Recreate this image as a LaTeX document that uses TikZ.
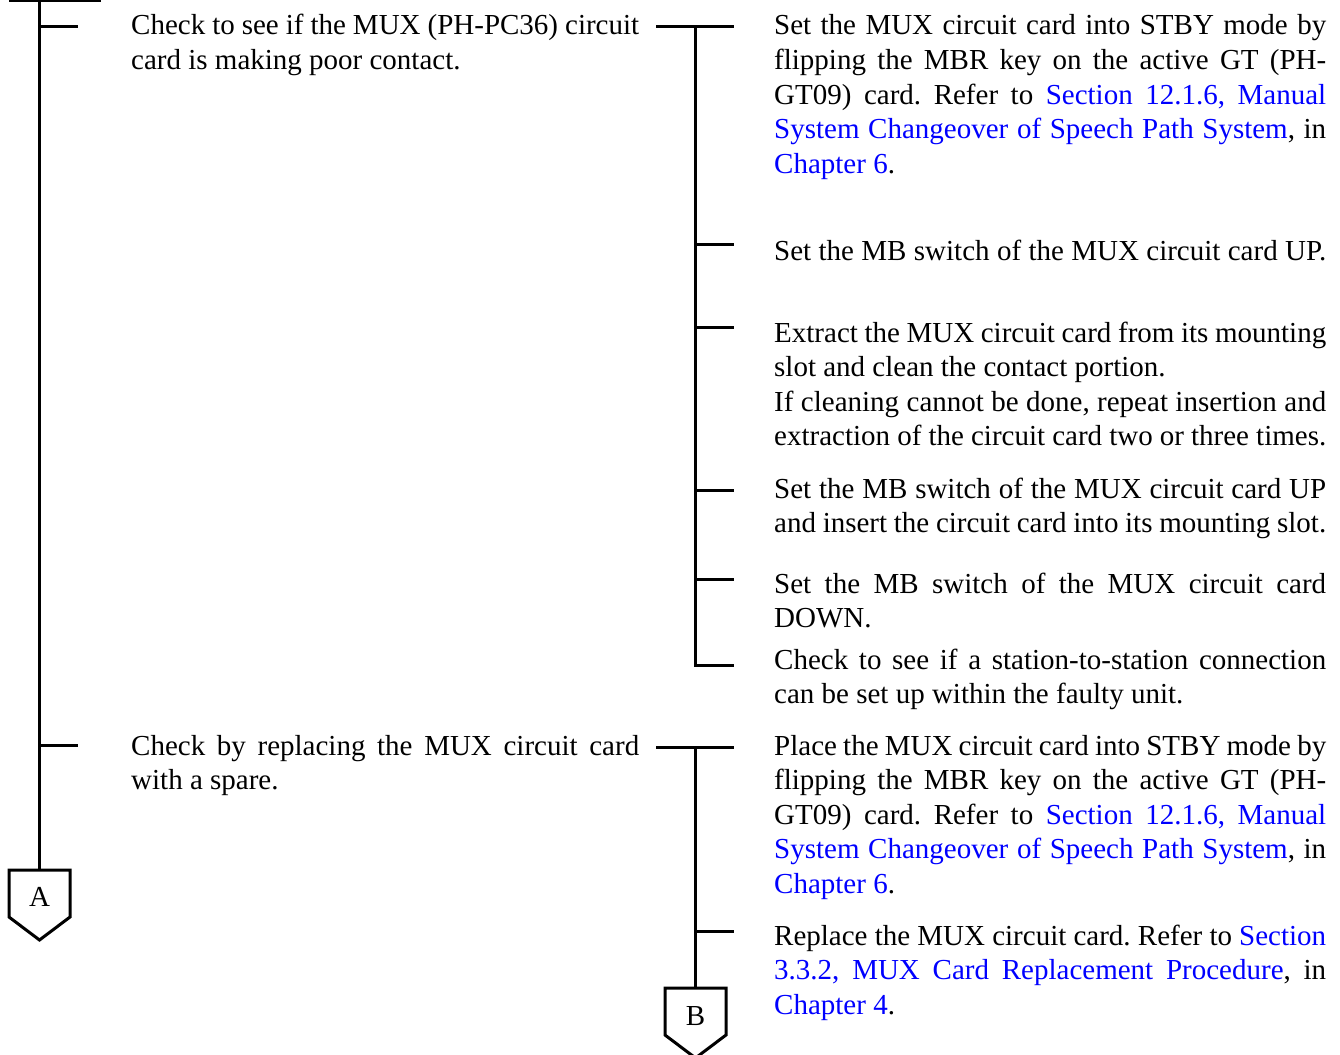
\documentclass[tikz,border=0pt]{standalone}
\usepackage{fontspec}
\setmainfont{Liberation Serif}
\definecolor{lk}{RGB}{0,0,255}
\tikzset{
 ln/.style={line width=3pt},
 txt/.style={anchor=base west, inner sep=0pt, align=justify, font=\fontsize{29}{34.6}\selectfont\frenchspacing,
   execute at begin node={\spaceskip=0pt\xspaceskip=0pt\relax}},
 rtxt/.style={txt, text width=552pt},
 ltxt/.style={txt, text width=508pt},
 tag/.style={inner sep=0pt, font=\fontsize{29}{34.6}\selectfont}
}
\newcommand\jl[1]{\makebox[\hsize][s]{\spaceskip=0pt\xspaceskip=0pt\relax #1}}
\newcommand\lk[1]{\textcolor{lk}{#1}}
\begin{document}
\begin{tikzpicture}[x=1pt,y=-1pt]
\useasboundingbox (0,0) rectangle (1340,1054);
% left spine
\coordinate (ta) at (9,0.5);
\coordinate (tb) at (101,0.5);
\coordinate (s0) at (39,0);
\coordinate (l1) at (39,27);
\coordinate (l1e) at (78,27);
\coordinate (l2) at (39,745);
\coordinate (l2e) at (78,745);
\coordinate (atop) at (39,870);
\draw[ln] (ta) -- (tb);
\draw[ln] (s0) -- (atop);
\draw[ln] (l1) -- (l1e);
\draw[ln] (l2) -- (l2e);
\draw[ln] (9,870) -- (70,870) -- (70,917) -- (39.5,940) -- (9,917) -- cycle;
\node[tag] (A) at (39.5,897) {A};
% left texts
\node[ltxt] (q1) at (131,35) {\jl{Check to see if the MUX (PH-PC36) circuit}\\card is making poor contact.};
\node[ltxt] (q2) at (131,755) {\jl{Check by replacing the MUX circuit card}\\with a spare.};
% first tee
\coordinate (h1a) at (656,27);
\coordinate (h1b) at (734,27);
\coordinate (v1) at (695,27);
\coordinate (v1e) at (695,665);
\coordinate (b6) at (734,665);
\draw[ln] (h1a) -- (h1b);
\draw[ln] (v1) -- (v1e) -- (b6);
\foreach \yy/\nm in {244/b2,327/b3,490/b4,579/b5}{
  \coordinate (\nm s) at (695,\yy);
  \coordinate (\nm) at (734,\yy);
  \draw[ln] (\nm s) -- (\nm);
}
% second tee
\coordinate (h2a) at (656,747);
\coordinate (h2b) at (734,747);
\coordinate (v2) at (695,747);
\coordinate (btop) at (695,988);
\coordinate (b8s) at (695,931);
\coordinate (b8) at (734,931);
\draw[ln] (h2a) -- (h2b);
\draw[ln] (v2) -- (btop);
\draw[ln] (b8s) -- (b8);
\draw[ln] (665,988) -- (726,988) -- (726,1035) -- (695.5,1058) -- (665,1035) -- cycle;
\node[tag] (B) at (695.5,1016) {B};
% right texts
\node[rtxt] (r1) at (774,35) {\jl{Set the MUX circuit card into STBY mode by}\\
\jl{flipping the MBR key on the active GT (PH-}\\
\jl{GT09) card. Refer to \lk{Section 12.1.6, Manual}}\\
\jl{\lk{System Changeover of Speech Path System}, in}\\
\lk{Chapter 6}.};
\node[rtxt] (r2) at (774,260) {\jl{Set the MB switch of the MUX circuit card UP.}};
\node[rtxt] (r3) at (774,342) {\jl{Extract the MUX circuit card from its mounting}\\
slot and clean the contact portion.\\
\jl{If cleaning cannot be done, repeat insertion and}\\
\jl{extraction of the circuit card two or three times.}};
\node[rtxt] (r4) at (774,498) {\jl{Set the MB switch of the MUX circuit card UP}\\
\jl{and insert the circuit card into its mounting slot.}};
\node[rtxt] (r5) at (774,593) {\jl{Set the MB switch of the MUX circuit card}\\DOWN.};
\node[rtxt] (r6) at (774,669) {\jl{Check to see if a station-to-station connection}\\can be set up within the faulty unit.};
\node[rtxt] (r7) at (774,755) {\jl{Place the MUX circuit card into STBY mode by}\\
\jl{flipping the MBR key on the active GT (PH-}\\
\jl{GT09) card. Refer to \lk{Section 12.1.6, Manual}}\\
\jl{\lk{System Changeover of Speech Path System}, in}\\
\lk{Chapter 6}.};
\node[rtxt] (r8) at (774,945) {\jl{Replace the MUX circuit card. Refer to \lk{Section}}\\
\jl{\lk{3.3.2, MUX Card Replacement Procedure}, in}\\
\lk{Chapter 4}.};
\end{tikzpicture}
\end{document}
